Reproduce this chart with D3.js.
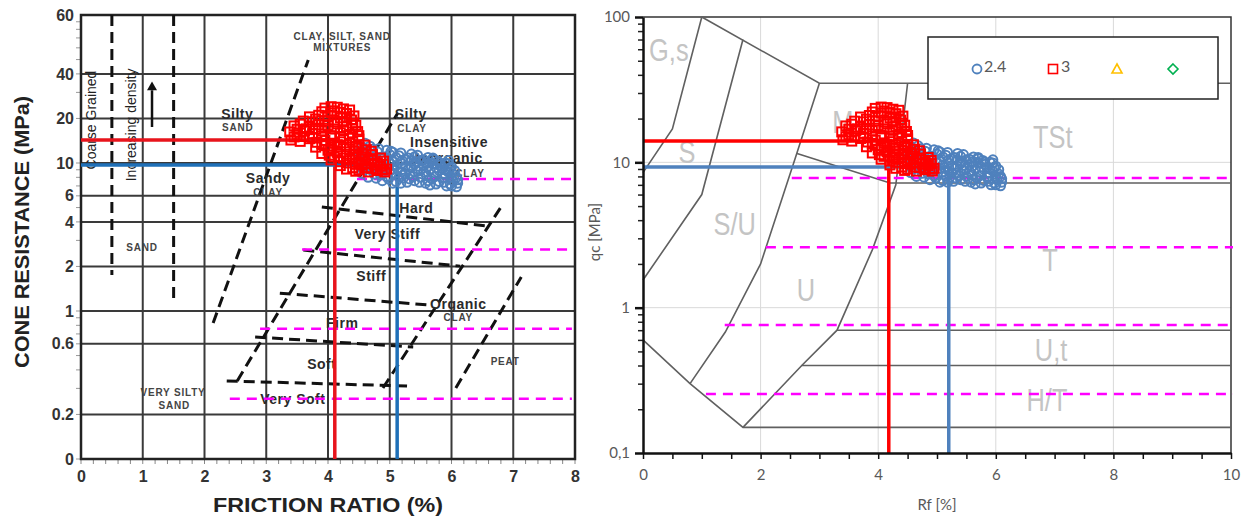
<!DOCTYPE html>
<html>
<head>
<meta charset="utf-8">
<script src="https://cdnjs.cloudflare.com/ajax/libs/d3/7.8.5/d3.min.js"></script>
<style>
  body { margin: 0; background: #fff; }
  svg { display: block; }
</style>
</head>
<body>
<svg id="chart" width="1247" height="518"></svg>
<script>
// ---- data: [Rf %, qc MPa] ----
const series24 = [
  [4.5,11.8],[4.55,12.9],[4.6,13.6],[4.68,13.0],[4.62,11.0],[4.5,9.8],[4.58,9.0],[4.7,10.2],[4.75,8.4],[4.65,8.0],
  [4.8,11.9],[4.85,10.8],[4.9,9.6],[4.82,8.9],[4.95,8.1],[4.88,7.6],[5.0,11.4],[5.05,10.3],[5.0,8.8],[5.1,7.5],
  [5.15,11.2],[5.2,9.9],[5.12,9.2],[5.25,8.4],[5.18,7.3],[5.3,10.8],[5.35,9.4],[5.32,7.8],[5.4,11.0],[5.45,8.8],
  [5.5,10.4],[5.48,7.4],[5.55,9.6],[5.6,8.2],[5.62,10.9],[5.65,7.1],[5.7,9.9],[5.72,8.6],[5.78,10.3],[5.8,7.5],
  [5.85,9.2],[5.88,8.0],[5.9,10.0],[5.92,7.0],[5.95,8.7],[6.0,9.4],[6.02,7.6],[6.05,8.3],[6.08,6.9],[6.1,7.3],
  [4.95,12.2],[5.25,10.6],[5.55,8.7],[5.75,9.3],[5.42,10.2],[5.08,8.5],[4.78,9.3],[5.68,7.8],[5.98,7.2],[6.05,8.9],
  [4.72,12.4],[5.1,10.9],[5.38,8.1],[5.82,9.7],[4.92,10.4],[5.22,7.9],[5.6,10.1],[5.95,9.9],
  [4.6,12.3],[4.7,11.5],[4.8,10.5],[4.9,11.0],[5.0,10.0],[5.1,9.6],[5.2,10.4],[5.3,9.1],[5.4,9.8],[5.5,9.0],
  [5.6,9.4],[5.7,10.6],[5.8,8.9],[5.9,8.4],[6.0,8.0],[4.85,8.3],[4.98,7.8],[5.15,8.0],[5.28,7.4],[5.4,7.6],
  [5.5,8.0],[5.62,7.6],[5.75,7.2],[5.88,7.4],[6.0,7.0],[4.7,9.0],[4.6,10.5],[5.05,9.1],[5.35,10.3],[5.65,9.0],
  [5.9,9.0],[6.08,8.0],[4.82,12.5],[5.02,12.0],[5.18,11.7],[5.45,11.3],[5.7,10.8],[5.95,10.4],[5.25,9.5],[5.55,10.5],
  [4.55,8.5],[4.52,10.8],[4.65,9.5],[4.78,7.9],[4.9,8.7],[5.05,7.3],[5.2,8.7],[5.33,8.4],[5.47,9.5],[5.58,7.3],
  [5.73,8.1],[5.85,7.9],[5.97,9.2],[6.1,7.7],[5.8,10.0],[5.65,10.0],[5.35,11.5],[5.05,11.8]
];
const series3 = [
  [3.95,23.5],[4.05,24.0],[4.15,23.8],[4.25,23.2],[4.35,22.8],[3.9,22.2],[4.1,22.5],[4.3,21.6],[4.42,20.8],
  [3.7,20.5],[3.8,19.8],[4.0,20.9],[4.2,20.2],[4.38,19.5],[3.6,19.2],
  [3.45,17.8],[3.55,18.3],[3.7,17.5],[3.85,18.1],[4.0,17.9],[4.15,18.4],[4.3,17.6],[4.45,18.0],
  [3.38,16.2],[3.5,15.5],[3.62,16.4],[3.75,15.8],[3.9,16.5],[4.05,15.3],[4.2,16.0],[4.35,15.6],[4.48,16.3],
  [3.4,14.3],[3.55,14.0],[3.7,14.6],[3.82,13.8],[3.95,14.2],[4.1,13.6],[4.25,14.4],[4.4,13.9],[4.5,14.5],
  [3.8,12.8],[3.95,13.1],[4.05,12.5],[4.2,12.9],[4.35,12.4],[4.5,12.7],[4.62,12.3],
  [3.9,11.6],[4.02,11.3],[4.15,11.8],[4.3,11.2],[4.45,11.5],[4.6,11.0],[4.72,11.4],
  [4.05,10.5],[4.2,10.2],[4.35,10.6],[4.5,10.1],[4.65,10.4],[4.8,10.0],[4.9,10.3],
  [4.2,9.6],[4.4,9.3],[4.55,9.7],[4.7,9.2],[4.85,9.5],[4.95,9.1],
  [4.45,8.8],[4.65,8.7],[4.8,8.9],[4.92,8.7],
  [3.5,16.9],[3.65,17.0],[3.8,16.9],[3.95,17.2],[4.1,17.0],[4.25,16.8],[4.4,17.1],
  [3.45,15.0],[3.6,15.1],[3.75,14.9],[3.9,15.2],[4.05,14.8],[4.2,15.1],[4.35,14.7],[4.5,15.3],
  [3.85,21.0],[4.05,21.8],[4.2,22.0],[4.3,20.5],[3.75,19.0],[3.95,19.3],[4.1,19.0],[4.25,18.9],[4.4,18.6],
  [3.9,13.5],[4.15,13.3],[4.3,13.2],[4.45,13.0],[4.6,13.2],
  [4.0,12.2],[4.15,12.1],[4.3,11.9],[4.42,12.0],[4.55,11.7],[4.7,12.0],
  [4.1,11.0],[4.25,10.8],[4.4,10.9],[4.55,10.6],[4.7,10.7],[4.85,10.8],
  [4.3,10.0],[4.45,9.8],[4.6,9.9],[4.75,9.7],[4.9,9.8],
  [4.3,9.1],[4.5,9.0],[4.62,9.3],[4.78,9.1],[4.88,9.0]
];
const legendLabels = ['2.4', '3', '', ''];

// left chart (Robertson-type) axes
const leftXTicks = [0, 1, 2, 3, 4, 5, 6, 7, 8];
const leftYTicks = [0.1, 0.2, 0.6, 1, 2, 4, 6, 10, 20, 40, 100];
const leftYLabels = ['0', '0.2', '0.6', '1', '2', '4', '6', '10', '20', '40', '60'];

// right chart axes
const rightXTicks = [0, 2, 4, 6, 8, 10];
const rightYTicks = [0.1, 1, 10, 100];
const rightYLabels = ['0,1', '1', '10', '100'];

// reference levels
const magentaLevels = [7.8, 2.6, 0.76, 0.255];
const magentaStartLeft = [4.47, 3.58, 2.9, 2.41];
const magentaStartRight = [2.53, 2.09, 1.39, 1.07];
const leftGuides = [[4.11, 14.3], [5.12, 9.7]];   // red, blue
const rightGuides = [[4.18, 14.0], [5.2, 9.3]];

// zone boundaries
const leftBoundaries = [
  [[0.5, 100], [0.5, 1.75]],
  [[1.5, 100], [1.5, 1.15]],
  [[2.14, 0.83], [3.68, 49.7]],
  [[2.53, 0.337], [5.13, 21.8]],
  [[4.89, 0.302], [6.79, 4.96]],
  [[6.07, 0.302], [7.13, 1.70]],
  [[3.9, 5.04], [6.59, 3.75]],
  [[3.6, 2.58], [6.14, 2.01]],
  [[3.22, 1.32], [5.6, 1.10]],
  [[2.82, 0.667], [5.38, 0.571]],
  [[2.36, 0.337], [5.28, 0.311]]
];
const rightBoundaries = [
  [[0, 8.5], [0.5, 17], [1.0, 100]],
  [[0, 1.55], [1.0, 6.0], [1.7, 70]],
  [[1.0, 100], [3.0, 35], [10, 35]],
  [[3.0, 35], [2.6, 11], [2.0, 2.0], [1.4, 0.68], [0.8, 0.3]],
  [[4.5, 35], [4.3, 7.0], [3.9, 2.5], [3.3, 0.7], [2.7, 0.4], [1.7, 0.15]],
  [[2.62, 11.5], [4.2, 7.2], [10, 7.2]],
  [[0, 0.6], [0.8, 0.3], [1.7, 0.15], [10, 0.15]],
  [[3.3, 0.7], [10, 0.7]],
  [[2.7, 0.4], [10, 0.4]]
];

// zone names (text, Rf, qc)
const leftBigLabels = [
  ['Silty', 2.53, 21.6], ['Sandy', 3.03, 7.9], ['Silty', 5.34, 21.5],
  ['Insensitive', 5.96, 13.8], ['Inorganic', 5.96, 10.9], ['Hard', 5.43, 4.97],
  ['Very Stiff', 4.96, 3.31], ['Stiff', 4.7, 1.72], ['Organic', 6.11, 1.12],
  ['Firm', 4.23, 0.83], ['Soft', 3.9, 0.438], ['Very Soft', 3.43, 0.254]
];
const leftSmallLabels = [
  ['CLAY, SILT, SAND', 4.23, 72.1], ['MIXTURES', 4.23, 60.8], ['SAND', 2.54, 17.3],
  ['CLAY', 3.03, 6.3], ['SAND', 0.99, 2.67], ['CLAY', 5.36, 17.0], ['CLAY', 6.3, 8.5],
  ['CLAY', 6.11, 0.9], ['PEAT', 6.87, 0.459], ['VERY SILTY', 1.49, 0.28], ['SAND', 1.51, 0.232]
];
const leftSideLabels = [['Coarse Grained', 0.16, 19.5], ['Increasing density', 0.81, 18.1]];
const rightZoneLabels = [
  ['G,s', 0.44, 59.4], ['S', 0.75, 11.8], ['S/U', 1.56, 3.77], ['U', 2.77, 1.32],
  ['M', 3.4, 19.0], ['TSt', 6.97, 15.0], ['T', 6.92, 2.13], ['U,t', 6.94, 0.512], ['H/T', 6.87, 0.232]
];

// ---- drawing ----
const svg = d3.select('#chart');

const xL = d3.scaleLinear().domain([0, 8]).range([81, 575]);
const yL = d3.scaleLog().domain([0.1, 100]).range([459, 15]);
const xR = d3.scaleLinear().domain([0, 10]).range([643, 1231]);
const yR = d3.scaleLog().domain([0.1, 100]).range([453, 17]);

const lineL = d3.line().x(d => xL(d[0])).y(d => yL(d[1]));
const lineR = d3.line().x(d => xR(d[0])).y(d => yR(d[1]));

const RED_L = '#e8141c', BLUE_L = '#1f70b8';
const RED_R = '#ff0000', BLUE_R = '#4f81bd';
const MAGENTA = '#ff00ff';

// ===== LEFT CHART =====
const gL = svg.append('g');

// minor ticks
gL.append('g')
  .selectAll('line')
  .data(d3.range(0, 8.01, 0.2))
  .join('line')
  .attr('x1', d => xL(d)).attr('x2', d => xL(d))
  .attr('y1', 459).attr('y2', 464)
  .attr('stroke', '#888').attr('stroke-width', 1);

const minorLeftY = [];
[0.1, 1, 10].forEach(dec => d3.range(1, 10).forEach(k => minorLeftY.push(dec * k)));
gL.append('g')
  .selectAll('line')
  .data(minorLeftY)
  .join('line')
  .attr('x1', 76).attr('x2', 81)
  .attr('y1', d => yL(d)).attr('y2', d => yL(d))
  .attr('stroke', '#999').attr('stroke-width', 1);

// grid
gL.append('g')
  .selectAll('line')
  .data(leftXTicks.slice(1, -1))
  .join('line')
  .attr('x1', d => xL(d)).attr('x2', d => xL(d))
  .attr('y1', yL(100)).attr('y2', yL(0.1))
  .attr('stroke', '#3a3a3a').attr('stroke-width', 2);

gL.append('g')
  .selectAll('line')
  .data(leftYTicks.slice(1, -1))
  .join('line')
  .attr('x1', xL(0)).attr('x2', xL(8))
  .attr('y1', d => yL(d)).attr('y2', d => yL(d))
  .attr('stroke', '#3a3a3a').attr('stroke-width', 2);

gL.append('rect')
  .attr('x', xL(0)).attr('y', yL(100))
  .attr('width', xL(8) - xL(0)).attr('height', yL(0.1) - yL(100))
  .attr('fill', 'none').attr('stroke', '#222').attr('stroke-width', 2.5);

// axes labels
gL.append('g')
  .attr('transform', `translate(${xL(0)},0)`)
  .call(d3.axisLeft(yL).tickValues(leftYTicks).tickFormat((d, i) => leftYLabels[i]).tickSize(0).tickPadding(7))
  .call(g => g.select('.domain').remove())
  .selectAll('text')
  .attr('font-family', 'Liberation Sans, Arial, sans-serif')
  .attr('font-size', 16).attr('font-weight', 'bold').attr('fill', '#333');

gL.append('g')
  .attr('transform', `translate(0,${yL(0.1)})`)
  .call(d3.axisBottom(xL).tickValues(leftXTicks).tickFormat(d3.format('d')).tickSize(0).tickPadding(12))
  .call(g => g.select('.domain').remove())
  .selectAll('text')
  .attr('font-family', 'Liberation Sans, Arial, sans-serif')
  .attr('font-size', 16).attr('font-weight', 'bold').attr('fill', '#333');

gL.append('text')
  .attr('x', 328).attr('y', 512)
  .attr('text-anchor', 'middle')
  .attr('font-family', 'Liberation Sans, Arial, sans-serif')
  .attr('font-size', 20).attr('font-weight', 'bold').attr('fill', '#222')
  .attr('textLength', 230).attr('lengthAdjust', 'spacingAndGlyphs')
  .text('FRICTION RATIO (%)');

gL.append('text')
  .attr('transform', 'translate(29,232) rotate(-90)')
  .attr('text-anchor', 'middle')
  .attr('font-family', 'Liberation Sans, Arial, sans-serif')
  .attr('font-size', 20).attr('font-weight', 'bold').attr('fill', '#222')
  .attr('textLength', 272).attr('lengthAdjust', 'spacingAndGlyphs')
  .text('CONE RESISTANCE (MPa)');

// dashed zone boundaries
gL.append('g')
  .selectAll('path')
  .data(leftBoundaries)
  .join('path')
  .attr('d', lineL)
  .attr('fill', 'none').attr('stroke', '#111')
  .attr('stroke-width', 3).attr('stroke-dasharray', '11 6');

// arrow
gL.append('line')
  .attr('x1', xL(1.15)).attr('x2', xL(1.15))
  .attr('y1', yL(17.5)).attr('y2', yL(31))
  .attr('stroke', '#111').attr('stroke-width', 2.5);
gL.append('path')
  .attr('d', d3.line()([[xL(1.15) - 5, yL(31)], [xL(1.15) + 5, yL(31)], [xL(1.15), yL(35.5)]]) + 'Z')
  .attr('fill', '#111');

// zone text
gL.append('g')
  .selectAll('text')
  .data(leftBigLabels)
  .join('text')
  .attr('x', d => xL(d[1])).attr('y', d => yL(d[2]))
  .attr('dy', '0.36em').attr('text-anchor', 'middle')
  .attr('font-family', 'Liberation Sans, Arial, sans-serif')
  .attr('font-size', 14).attr('font-weight', 'bold').attr('fill', '#2a2a2a')
  .attr('letter-spacing', 0.5)
  .text(d => d[0]);

gL.append('g')
  .selectAll('text')
  .data(leftSmallLabels)
  .join('text')
  .attr('x', d => xL(d[1])).attr('y', d => yL(d[2]))
  .attr('dy', '0.36em').attr('text-anchor', 'middle')
  .attr('font-family', 'Liberation Sans, Arial, sans-serif')
  .attr('font-size', 10).attr('font-weight', 'bold').attr('fill', '#444')
  .attr('letter-spacing', 0.8)
  .text(d => d[0]);

gL.append('g')
  .selectAll('text')
  .data(leftSideLabels)
  .join('text')
  .attr('transform', d => `translate(${xL(d[1])},${yL(d[2])}) rotate(-90)`)
  .attr('dy', '0.36em').attr('text-anchor', 'middle')
  .attr('font-family', 'Liberation Sans, Arial, sans-serif')
  .attr('font-size', 14).attr('fill', '#222')
  .text(d => d[0]);

// magenta levels
gL.append('g')
  .selectAll('line')
  .data(magentaLevels)
  .join('line')
  .attr('x1', (d, i) => xL(magentaStartLeft[i])).attr('x2', xL(7.95))
  .attr('y1', d => yL(d)).attr('y2', d => yL(d))
  .attr('stroke', MAGENTA).attr('stroke-width', 2.5).attr('stroke-dasharray', '10 7');

// guide lines
[[leftGuides[0], RED_L], [leftGuides[1], BLUE_L]].forEach(([p, c]) => {
  gL.append('path')
    .attr('d', lineL([[0, p[1]], [p[0], p[1]], [p[0], 0.1]]))
    .attr('fill', 'none').attr('stroke', c).attr('stroke-width', 3.5);
});

// scatter
gL.append('g')
  .selectAll('circle')
  .data(series24)
  .join('circle')
  .attr('cx', d => xL(d[0])).attr('cy', d => yL(d[1])).attr('r', 4.5)
  .attr('fill', 'none').attr('stroke', BLUE_R).attr('stroke-width', 2);
gL.append('g')
  .selectAll('rect')
  .data(series3)
  .join('rect')
  .attr('x', d => xL(d[0]) - 4.5).attr('y', d => yL(d[1]) - 4.5)
  .attr('width', 9).attr('height', 9)
  .attr('fill', 'none').attr('stroke', RED_R).attr('stroke-width', 2);

// ===== RIGHT CHART =====
const gR = svg.append('g');

// light grid
gR.append('g')
  .selectAll('line')
  .data(rightXTicks.slice(1, -1))
  .join('line')
  .attr('x1', d => xR(d)).attr('x2', d => xR(d))
  .attr('y1', yR(100)).attr('y2', yR(0.1))
  .attr('stroke', '#d9d9d9').attr('stroke-width', 1);
gR.append('g')
  .selectAll('line')
  .data([1, 10])
  .join('line')
  .attr('x1', xR(0)).attr('x2', xR(10))
  .attr('y1', d => yR(d)).attr('y2', d => yR(d))
  .attr('stroke', '#d9d9d9').attr('stroke-width', 1);

// frame top/right
gR.append('path')
  .attr('d', lineR([[0, 100], [10, 100], [10, 0.1]]))
  .attr('fill', 'none').attr('stroke', '#333').attr('stroke-width', 1.5);

// zone labels
gR.append('g')
  .selectAll('text')
  .data(rightZoneLabels)
  .join('text')
  .attr('transform', d => `translate(${xR(d[1])},${yR(d[2])}) scale(0.82,1)`)
  .attr('dy', '0.36em').attr('text-anchor', 'middle')
  .attr('font-family', 'Liberation Sans, Arial, sans-serif')
  .attr('font-size', 31).attr('fill', '#c4c4c4')
  .text(d => d[0]);

// boundaries
gR.append('g')
  .selectAll('path')
  .data(rightBoundaries)
  .join('path')
  .attr('d', lineR)
  .attr('fill', 'none').attr('stroke', '#606060').attr('stroke-width', 1.6);

// magenta
gR.append('g')
  .selectAll('line')
  .data(magentaLevels)
  .join('line')
  .attr('x1', (d, i) => xR(magentaStartRight[i])).attr('x2', xR(10) + 2)
  .attr('y1', d => yR(d)).attr('y2', d => yR(d))
  .attr('stroke', MAGENTA).attr('stroke-width', 2.5).attr('stroke-dasharray', '10 7');

// guides
[[rightGuides[0], RED_R], [rightGuides[1], BLUE_R]].forEach(([p, c]) => {
  gR.append('path')
    .attr('d', lineR([[0, p[1]], [p[0], p[1]], [p[0], 0.1]]))
    .attr('fill', 'none').attr('stroke', c).attr('stroke-width', 3.5);
});

// scatter
gR.append('g')
  .selectAll('circle')
  .data(series24)
  .join('circle')
  .attr('cx', d => xR(d[0])).attr('cy', d => yR(d[1])).attr('r', 4.5)
  .attr('fill', 'none').attr('stroke', BLUE_R).attr('stroke-width', 2);
gR.append('g')
  .selectAll('rect')
  .data(series3)
  .join('rect')
  .attr('x', d => xR(d[0]) - 4.5).attr('y', d => yR(d[1]) - 4.5)
  .attr('width', 9).attr('height', 9)
  .attr('fill', 'none').attr('stroke', RED_R).attr('stroke-width', 2);

// axes
const minorRightY = [];
[0.1, 1, 10].forEach(dec => d3.range(2, 10).forEach(k => minorRightY.push(dec * k)));
gR.append('g')
  .attr('transform', `translate(${xR(0)},0)`)
  .call(d3.axisLeft(yR).tickValues(minorRightY).tickFormat('').tickSize(5))
  .call(g => g.select('.domain').remove())
  .selectAll('line').attr('stroke', '#222').attr('stroke-width', 1.5);

gR.append('g')
  .attr('transform', `translate(${xR(0)},0)`)
  .call(d3.axisLeft(yR).tickValues(rightYTicks).tickFormat((d, i) => rightYLabels[i]).tickSize(8).tickSizeOuter(0).tickPadding(5))
  .call(g => g.select('.domain').attr('stroke', '#111').attr('stroke-width', 2.5))
  .call(g => g.selectAll('line').attr('stroke', '#111').attr('stroke-width', 2.5))
  .selectAll('text')
  .attr('font-family', 'Lato, Liberation Sans, sans-serif')
  .attr('font-size', 15).attr('fill', '#595959');

gR.append('g')
  .attr('transform', `translate(0,${yR(0.1)})`)
  .call(d3.axisBottom(xR).tickValues(d3.range(0, 10.01, 0.5)).tickFormat(d => rightXTicks.includes(d) ? d : '').tickSize(6).tickSizeOuter(0).tickPadding(10))
  .call(g => g.select('.domain').attr('stroke', '#111').attr('stroke-width', 2.5))
  .call(g => g.selectAll('line').attr('stroke', '#111').attr('stroke-width', 1.5))
  .selectAll('text')
  .attr('font-family', 'Lato, Liberation Sans, sans-serif')
  .attr('font-size', 15).attr('fill', '#595959');

gR.append('text')
  .attr('x', 937).attr('y', 510)
  .attr('text-anchor', 'middle')
  .attr('font-family', 'Lato, Liberation Sans, sans-serif')
  .attr('font-size', 15).attr('fill', '#595959')
  .text('Rf [%]');

gR.append('text')
  .attr('transform', 'translate(600,232) rotate(-90)')
  .attr('text-anchor', 'middle')
  .attr('font-family', 'Lato, Liberation Sans, sans-serif')
  .attr('font-size', 15).attr('fill', '#595959')
  .text('qc [MPa]');

// legend
const lg = gR.append('g');
lg.append('rect')
  .attr('x', 928).attr('y', 37).attr('width', 290).attr('height', 62)
  .attr('fill', '#fff').attr('stroke', '#222').attr('stroke-width', 1.5);
const lgY = 69;
lg.append('circle').attr('cx', 977).attr('cy', lgY).attr('r', 4.5)
  .attr('fill', 'none').attr('stroke', BLUE_R).attr('stroke-width', 1.8);
lg.append('rect').attr('x', 1048.5).attr('y', lgY - 4.5).attr('width', 9).attr('height', 9)
  .attr('fill', 'none').attr('stroke', RED_R).attr('stroke-width', 1.6);
lg.append('path')
  .attr('d', `M1117,${lgY - 5}L1122,${lgY + 4}L1112,${lgY + 4}Z`)
  .attr('fill', 'none').attr('stroke', '#ffc000').attr('stroke-width', 1.6);
lg.append('path')
  .attr('d', `M1173,${lgY - 5}L1178,${lgY}L1173,${lgY + 5}L1168,${lgY}Z`)
  .attr('fill', 'none').attr('stroke', '#00b050').attr('stroke-width', 1.6);
lg.selectAll('text.lbl')
  .data(legendLabels.slice(0, 2))
  .join('text')
  .attr('class', 'lbl')
  .attr('x', (d, i) => [984, 1061][i]).attr('y', lgY)
  .attr('dy', '0.2em')
  .attr('font-family', 'Lato, Liberation Sans, sans-serif')
  .attr('font-size', 16).attr('fill', '#595959')
  .text(d => d);
</script>
</body>
</html>
